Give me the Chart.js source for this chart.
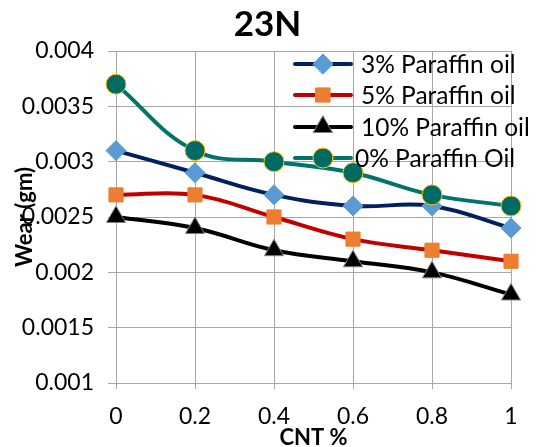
<!DOCTYPE html>
<html>
<head>
<meta charset="utf-8">
<script src="https://cdn.jsdelivr.net/npm/chart.js@4.4.0/dist/chart.umd.min.js"></script>
<style>
    html, body { margin: 0; padding: 0; background: #fff; }
    #wrap { width: 545px; height: 447px; }
</style>
</head>
<body>
<div id="wrap"><canvas id="chart" width="545" height="447"></canvas></div>
<script>
// CNT % on the x axis, wear (gm) per paraffin oil content
var cntLabels = ['0', '0.2', '0.4', '0.6', '0.8', '1'];
var paraffin3 = [0.0031, 0.0029, 0.0027, 0.0026, 0.0026, 0.0024];
var paraffin5 = [0.0027, 0.0027, 0.0025, 0.0023, 0.0022, 0.0021];
var paraffin10 = [0.0025, 0.0024, 0.0022, 0.0021, 0.0020, 0.0018];
var paraffin0 = [0.0037, 0.0031, 0.0030, 0.0029, 0.0027, 0.0026];
var seriesNames = ['3% Paraffin oil', '5% Paraffin oil', '10% Paraffin oil', '0% Paraffin Oil'];

var FONT = 'Lato, "Open Sans", sans-serif';
var GRID = '#a6a6a6';

function series(label, data, line, fill, border, style, radius, order) {
    return {
        label: label,
        data: data,
        borderColor: line,
        borderWidth: 4,
        backgroundColor: fill,
        pointBackgroundColor: fill,
        pointBorderColor: border,
        pointBorderWidth: 1,
        pointStyle: style,
        pointRadius: radius,
        pointHoverRadius: radius,
        tension: 0.4,
        fill: false,
        order: order
    };
}

// legend drawn on top of the plot, like the original
var legendPlugin = {
    id: 'overLegend',
    afterDraw: function(chart) {
        var ctx = chart.ctx;
        var x0 = 295, x1 = 351;
        var rows = [64, 95, 127, 158];
        var textX = [361, 361, 361, 355];
        ctx.save();
        ctx.font = '24.5px ' + FONT;
        ctx.textBaseline = 'middle';
        ctx.textAlign = 'left';
        chart.data.datasets.forEach(function(ds, i) {
            var y = rows[i];
            ctx.strokeStyle = ds.borderColor;
            ctx.lineWidth = 4;
            ctx.lineCap = 'round';
            ctx.beginPath();
            ctx.moveTo(x0, y);
            ctx.lineTo(x1, y);
            ctx.stroke();
            ctx.fillStyle = ds.pointBackgroundColor;
            ctx.strokeStyle = ds.pointBorderColor;
            ctx.lineWidth = ds.pointBorderWidth;
            Chart.helpers.drawPoint(ctx, {
                pointStyle: ds.pointStyle,
                radius: ds.pointRadius,
                rotation: 0,
                borderWidth: ds.pointBorderWidth
            }, (x0 + x1) / 2, y);
            ctx.fillStyle = '#000';
            ctx.fillText(seriesNames[i], textX[i], y + 1);
        });
        ctx.restore();
    }
};

new Chart(document.getElementById('chart'), {
    type: 'line',
    data: {
        labels: cntLabels,
        datasets: [
            series(seriesNames[0], paraffin3, '#002060', '#5b9bd5', '#5b9bd5', 'rectRot', 10, 4),
            series(seriesNames[1], paraffin5, '#c00000', '#ed7d31', '#ed7d31', 'rect', 10, 3),
            series(seriesNames[2], paraffin10, '#000000', '#000000', '#7f7f7f', 'triangle', 11, 2),
            series(seriesNames[3], paraffin0, '#00736b', '#006b63', '#ffc000', 'circle', 10, 1)
        ]
    },
    options: {
        responsive: false,
        animation: false,
        devicePixelRatio: 1,
        layout: { padding: { left: 0, right: 10, top: 0, bottom: 0 } },
        plugins: {
            legend: { display: false },
            tooltip: { enabled: false },
            title: {
                display: true,
                text: '23N',
                color: '#000',
                font: { family: FONT, size: 35, weight: 'bold' },
                padding: { top: 4, bottom: 5 }
            }
        },
        scales: {
            x: {
                offset: false,
                grid: { color: GRID, lineWidth: 1, tickLength: 6 },
                border: { color: GRID },
                ticks: { color: '#000', font: { family: FONT, size: 23 }, padding: 14, maxRotation: 0 },
                title: {
                    display: true,
                    text: 'CNT %',
                    color: '#000',
                    font: { family: FONT, size: 22, weight: 'bold' },
                    padding: { top: 0, bottom: -4 }
                },
                afterFit: function(scale) { scale.height = 64; }
            },
            y: {
                min: 0.001,
                max: 0.004,
                grid: { color: GRID, lineWidth: 1, tickLength: 8 },
                border: { color: GRID },
                ticks: {
                    stepSize: 0.0005,
                    color: '#000',
                    font: { family: FONT, size: 23 },
                    padding: 14,
                    callback: function(v) { return String(parseFloat(v.toFixed(4))); }
                },
                title: {
                    display: true,
                    text: 'Wear (gm)',
                    color: '#000',
                    font: { family: FONT, size: 22, weight: 'bold' },
                    padding: { top: 12, bottom: 0 }
                },
                afterFit: function(scale) { scale.width = 116; }
            },
            // empty spacer on the right so the title centres like the original
            spacer: {
                position: 'right',
                min: 0,
                max: 1,
                grid: { display: false },
                border: { display: false },
                ticks: { display: false },
                afterFit: function(scale) { scale.width = 24; }
            }
        }
    },
    plugins: [legendPlugin]
});
</script>
</body>
</html>
